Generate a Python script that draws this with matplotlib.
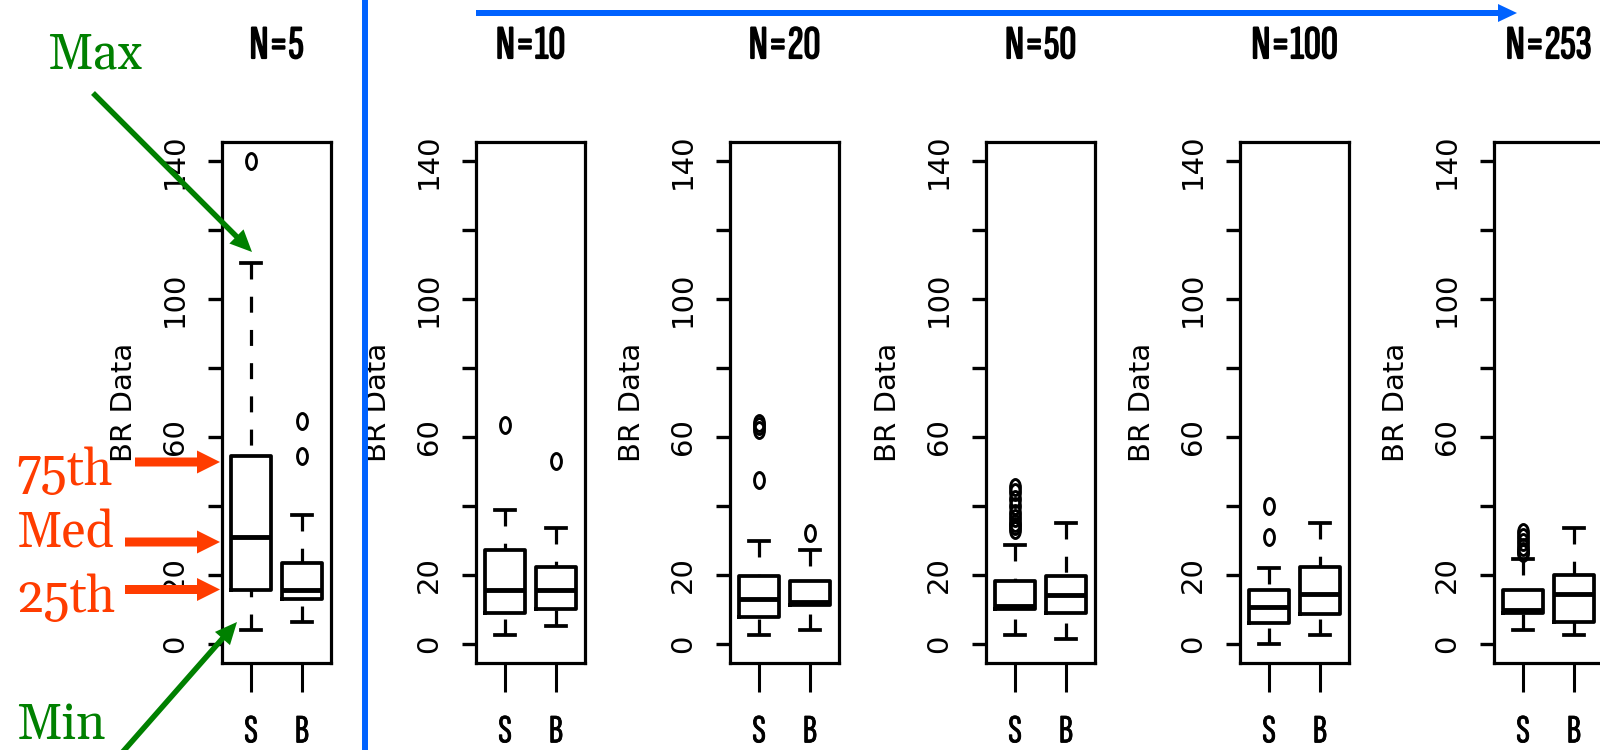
import numpy as np
import matplotlib.pyplot as plt
import matplotlib.patheffects as pe
from matplotlib.path import Path
from matplotlib.patches import FancyArrowPatch

# panel titles and groups
titles = ['N=5', 'N=10', 'N=20', 'N=50', 'N=100', 'N=253']
groups = ['S', 'B']

# group S, one value per panel
s_whislo = [4.0, 2.5, 2.5, 2.5, 0.0, 3.9]
s_q1 = [15.5, 9.0, 7.6, 10.0, 6.1, 9.0]
s_med = [31.0, 15.5, 12.9, 10.9, 10.5, 9.8]
s_q3 = [54.5, 27.3, 19.6, 18.3, 15.7, 15.7]
s_whishi = [110.3, 38.9, 29.7, 28.5, 22.0, 24.7]
s_fliers = [[140.0], [63.4], [47.4, 62.0, 63.0, 64.0],
            [33.0, 34.0, 35.0, 36.5, 38.0, 40.0, 42.0, 44.0, 45.5],
            [31.0, 40.0], [26.3, 27.0, 28.0, 29.5, 31.0, 32.4]]

# group B
b_whislo = [6.4, 5.1, 4.0, 1.3, 2.5, 2.5]
b_q1 = [13.1, 10.2, 11.2, 9.0, 8.7, 6.3]
b_med = [15.5, 15.5, 12.1, 14.2, 14.3, 14.3]
b_q3 = [23.5, 22.2, 18.1, 19.6, 22.3, 19.8]
b_whishi = [37.4, 33.6, 27.1, 34.9, 35.0, 33.6]
b_fliers = [[54.5, 64.6], [53.0], [32.2], [], [], []]

yticks = [0, 20, 40, 60, 80, 100, 120, 140]
ytick_labels = ['0', '20', '', '60', '', '100', '', '140']

narrow = ['Sofia Sans Extra Condensed', 'Roboto Condensed', 'DejaVu Sans']
serif = ['Gelasio', 'DejaVu Serif']
green = '#008000'
orange = '#FF3C00'
blue = '#0062FF'
bold_title = [pe.withStroke(linewidth=1.2, foreground='black')]
bold_tick = [pe.withStroke(linewidth=0.6, foreground='black')]

W, H = 1600, 750
fig = plt.figure(figsize=(16, 7.5), dpi=100)


def fx(px):
    return px / W


def fy(py):
    return 1 - py / H


# R's open circle, squashed sideways like the original
ell = Path.unit_circle()
ell = Path(ell.vertices * [0.62, 1.0], ell.codes)

lefts = [222, 476, 730, 986, 1240, 1494]
top, bot, pw = 141.6, 663, 109

for i in range(6):
    ax = fig.add_axes([fx(lefts[i]), fy(bot), pw / W, (bot - top) / H])
    stats = [
        dict(whislo=s_whislo[i], q1=s_q1[i], med=s_med[i], q3=s_q3[i],
             whishi=s_whishi[i], fliers=s_fliers[i]),
        dict(whislo=b_whislo[i], q1=b_q1[i], med=b_med[i], q3=b_q3[i],
             whishi=b_whishi[i], fliers=b_fliers[i]),
    ]
    bp = ax.bxp(stats, positions=[1, 2], widths=0.8, capwidths=0.4,
                boxprops=dict(color='black', lw=2.7),
                medianprops=dict(color='black', lw=3.5, solid_capstyle='butt'),
                whiskerprops=dict(color='black', lw=2.3, linestyle=(0, (5.0, 5.4))),
                capprops=dict(color='black', lw=2.7),
                flierprops=dict(marker=ell, markersize=11.5, markerfacecolor='none',
                                markeredgecolor='black', markeredgewidth=2.1,
                                linestyle='none'))
    # R draws whiskers starting at the caps
    for w in bp['whiskers']:
        w.set_ydata(w.get_ydata()[::-1])

    ax.set_xlim(0.43, 2.57)
    ax.set_ylim(-5.6, 145.6)
    for s in ax.spines.values():
        s.set_linewidth(2.3)
    ax.set_yticks(yticks)
    ax.set_yticklabels(ytick_labels, rotation=90, va='center', fontsize=21)
    ax.set_xticks([1, 2])
    ax.set_xticklabels(groups, fontsize=29, family=narrow, path_effects=bold_tick)
    ax.tick_params(axis='y', length=10, width=2.4, pad=14)
    ax.tick_params(axis='x', length=21, width=2.2, pad=16)
    ax.set_ylabel('BR Data', fontsize=21, va='center')
    ax.yaxis.set_label_coords(-98 / pw, 0.5)
    ax.set_title(titles[i], fontsize=34, family=narrow, pad=60, path_effects=bold_title)

# separator and direction arrow
fig.add_artist(plt.Line2D([fx(365), fx(365)], [0, 1], color=blue, lw=4.3,
                          transform=fig.transFigure))


def arrow(x0, y0, x1, y1, color, hl, hw, tw):
    s = 0.72
    fig.add_artist(FancyArrowPatch(
        (fx(x0), fy(y0)), (fx(x1), fy(y1)), transform=fig.transFigure,
        arrowstyle=f'simple,head_length={hl},head_width={hw},tail_width={tw}',
        mutation_scale=s, color=color, lw=0, shrinkA=0, shrinkB=0))


arrow(476, 13, 1517, 13, blue, 19, 18, 6)
arrow(93, 93, 252, 252, green, 22, 20, 5.5)
arrow(120, 755, 237, 622, green, 22, 20, 5.5)
arrow(135, 462, 220, 462, orange, 23, 23, 9)
arrow(125, 542, 220, 542, orange, 23, 23, 9)
arrow(125, 589.5, 220, 589.5, orange, 23, 23, 9)

note = dict(fontsize=35.5, family=serif, fontweight='medium', va='baseline')
fig.text(fx(47), fy(68.5), 'Max', color=green, **note)
fig.text(fx(16), fy(485), '75th', color=orange, **note)
fig.text(fx(16), fy(548), 'Med', color=orange, **note)
fig.text(fx(16), fy(612), '25th', color=orange, **note)
fig.text(fx(16), fy(739), 'Min', color=green, **note)

fig.savefig('out.png', dpi=100)
